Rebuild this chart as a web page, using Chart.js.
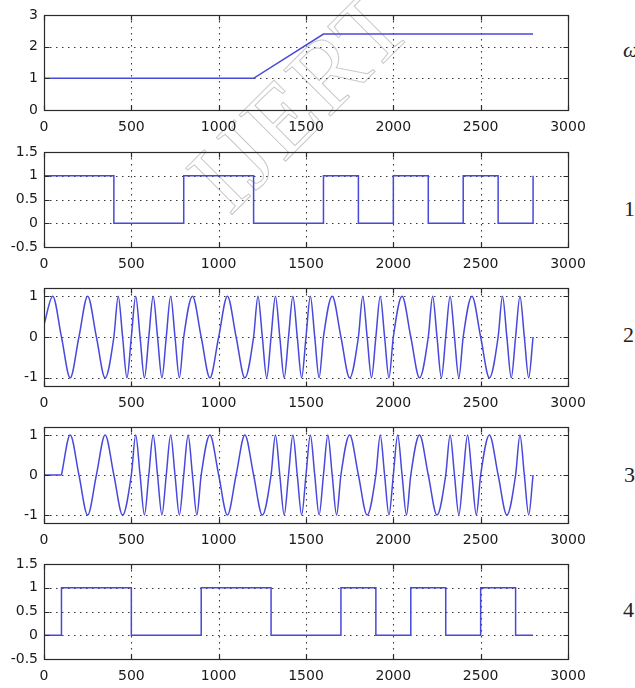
<!DOCTYPE html>
<html><head><meta charset="utf-8">
<script src="https://cdn.jsdelivr.net/npm/chart.js@4"></script>
<style>
html,body{margin:0;padding:0;background:#fff;width:635px;height:688px;overflow:hidden;position:relative}
canvas{position:absolute;left:0}
.lab{position:absolute;font-family:"Liberation Serif","DejaVu Serif",serif;font-size:22px;color:#222;line-height:1;white-space:nowrap}
.wm{position:absolute;left:300px;top:100px;font-family:"Liberation Serif",serif;font-size:100px;line-height:1;color:transparent;-webkit-text-stroke:1px #c8c8c8;transform:translate(-50%,-50%) rotate(-45deg);white-space:nowrap;letter-spacing:2px}
</style></head><body>
<div class="wm">IJERT</div>
<div class="lab" style="left:623px;top:39px;font-style:italic">ω</div>
<div class="lab" style="left:624px;top:198px">1</div>
<div class="lab" style="left:623px;top:324px">2</div>
<div class="lab" style="left:624px;top:464px">3</div>
<div class="lab" style="left:623px;top:599px">4</div>
<script>
// ---- data ----
const xTickLabels = ['0','500','1000','1500','2000','2500','3000'];
const yTicksOmega = ['0','1','2','3'];
const yTicksBin = ['-0.5','0','0.5','1','1.5'];
const yTicksWave = ['-1','0','1'];

const omegaX = [0, 1200, 1600, 2800];
const omegaY = [1, 1, 2.4, 2.4];

const bit1X = [0,400,800,1200,1600,1800,2000,2200,2400,2600,2800];
const bit1Y = [1,0,1,0,1,0,1,0,1,0,1];

const bit4X = [0,100,500,900,1300,1700,1900,2100,2300,2500,2700,2800];
const bit4Y = [0,1,0,1,0,1,0,1,0,1,0,0];

// extrema / zero crossings of signal 2
const wave2X = [0,50,100,150,200,250,300,350,400,
 425,450,475,500,525,550,575,600,625,650,675,700,725,750,775,800,
 850,900,950,1000,1050,1100,1150,1200,
 1225,1250,1275,1300,1325,1350,1375,1400,1425,1450,1475,1500,1525,1550,1575,1600,
 1650,1700,1750,1800,
 1825,1850,1875,1900,1925,1950,1975,2000,
 2050,2100,2150,2200,
 2225,2250,2275,2300,2325,2350,2375,2400,
 2450,2500,2550,2600,
 2625,2650,2675,2700,2725,2750,2775,2800];
const wave2Y = [0.3,1,0,-1,0,1,0,-1,0,
 1,0,-1,0,1,0,-1,0,1,0,-1,0,1,0,-1,0,
 1,0,-1,0,1,0,-1,0,
 1,0,-1,0,1,0,-1,0,1,0,-1,0,1,0,-1,0,
 1,0,-1,0,
 1,0,-1,0,1,0,-1,0,
 1,0,-1,0,
 1,0,-1,0,1,0,-1,0,
 1,0,-1,0,
 1,0,-1,0,1,0,-1,0];

// signal 3: flat lead then extrema / zero crossings
const lead3X = [0, 100];
const lead3Y = [0, 0];
const wave3X = [100,150,200,250,300,350,400,450,500,
 525,550,575,600,625,650,675,700,725,750,775,800,825,850,875,900,
 950,1000,1050,1100,1150,1200,1250,1300,
 1325,1350,1375,1400,1425,1450,1475,1500,1525,1550,1575,1600,1625,1650,1675,1700,
 1750,1800,1850,1900,
 1925,1950,1975,2000,2025,2050,2075,2100,
 2150,2200,2250,2300,
 2325,2350,2375,2400,2425,2450,2475,2500,
 2550,2600,2650,2700,
 2725,2750,2775,2800];
const wave3Y = [0,1,0,-1,0,1,0,-1,0,
 1,0,-1,0,1,0,-1,0,1,0,-1,0,1,0,-1,0,
 1,0,-1,0,1,0,-1,0,
 1,0,-1,0,1,0,-1,0,1,0,-1,0,1,0,-1,0,
 1,0,-1,0,
 1,0,-1,0,1,0,-1,0,
 1,0,-1,0,
 1,0,-1,0,1,0,-1,0,
 1,0,-1,0,
 1,0,-1,0];

// ---- rendering ----
const LINE = '#4848dc';
const toXY = (xs, ys) => xs.map((v, i) => ({x: v, y: ys[i]}));

const framePlugin = {
  id: 'frame',
  beforeDatasetsDraw(chart) {
    const {ctx, chartArea: a, scales: {x, y}} = chart;
    ctx.save();
    ctx.strokeStyle = '#3a3a3a'; ctx.lineWidth = 1.1; ctx.setLineDash([1.5, 4.5]);
    x.ticks.forEach(t => {
      const px = Math.round(x.getPixelForValue(t.value)) + 0.5;
      if (px > a.left + 2 && px < a.right - 2) { ctx.beginPath(); ctx.moveTo(px, a.top); ctx.lineTo(px, a.bottom); ctx.stroke(); }
    });
    y.ticks.forEach(t => {
      const py = Math.round(y.getPixelForValue(t.value)) + 0.5;
      if (py > a.top + 2 && py < a.bottom - 2) { ctx.beginPath(); ctx.moveTo(a.left, py); ctx.lineTo(a.right, py); ctx.stroke(); }
    });
    ctx.restore();
  },
  afterDatasetsDraw(chart) {
    const {ctx, chartArea: a, scales: {x, y}} = chart;
    ctx.save();
    ctx.strokeStyle = '#2a2a2a'; ctx.lineWidth = 1.2; ctx.setLineDash([]);
    const L = Math.round(a.left) + 0.5, R = Math.round(a.right) + 0.5, T = Math.round(a.top) + 0.5, B = Math.round(a.bottom) + 0.5;
    ctx.strokeRect(L, T, R - L, B - T);
    const tl = 5;
    ctx.beginPath();
    x.ticks.forEach(t => {
      const px = Math.round(x.getPixelForValue(t.value)) + 0.5;
      ctx.moveTo(px, B); ctx.lineTo(px, B - tl);
      ctx.moveTo(px, T); ctx.lineTo(px, T + tl);
    });
    y.ticks.forEach(t => {
      const py = Math.round(y.getPixelForValue(t.value)) + 0.5;
      ctx.moveTo(L, py); ctx.lineTo(L + tl, py);
      ctx.moveTo(R, py); ctx.lineTo(R - tl, py);
    });
    ctx.stroke();
    ctx.restore();
  }
};

const tickFont = {family: '"DejaVu Sans", sans-serif', size: 14, lineHeight: 1};

function makeChart(cfg) {
  const c = document.createElement('canvas');
  const H = cfg.canvasBottom - cfg.canvasTop;
  c.width = 635; c.height = H;
  c.style.top = cfg.canvasTop + 'px';
  c.style.width = '635px'; c.style.height = H + 'px';
  document.body.appendChild(c);
  const datasets = cfg.series.map(s => ({
    data: toXY(s.x, s.y),
    borderColor: LINE, borderWidth: 1.5, pointRadius: 0, fill: false,
    stepped: s.stepped || false,
    cubicInterpolationMode: s.smooth ? 'monotone' : 'default',
    tension: 0
  }));
  new Chart(c, {
    type: 'line',
    data: {datasets},
    options: {
      responsive: false, animation: false, devicePixelRatio: 1,
      layout: {padding: {top: cfg.plotTop - cfg.canvasTop, right: 635 - 568, left: 0, bottom: 0}},
      plugins: {legend: {display: false}, tooltip: {enabled: false}},
      scales: {
        x: {
          type: 'linear', min: 0, max: 3000,
          grid: {display: false, drawTicks: false}, border: {display: false},
          afterBuildTicks: s => { s.ticks = xTickLabels.map(l => ({value: parseFloat(l)})); },
          afterFit: s => { s.height = cfg.canvasBottom - cfg.plotBottom; },
          ticks: {font: tickFont, color: '#1a1a1a', padding: 10, maxRotation: 0, autoSkip: false,
            callback: (v) => xTickLabels.find(l => parseFloat(l) === v) ?? ''}
        },
        y: {
          type: 'linear', min: cfg.yMin, max: cfg.yMax,
          grid: {display: false, drawTicks: false}, border: {display: false},
          afterBuildTicks: s => { s.ticks = cfg.yLabels.map(l => ({value: parseFloat(l)})); },
          afterFit: s => { s.width = 44; },
          ticks: {font: tickFont, color: '#1a1a1a', padding: 6, autoSkip: false,
            callback: (v) => cfg.yLabels.find(l => parseFloat(l) === v) ?? ''}
        }
      }
    },
    plugins: [framePlugin]
  });
}

makeChart({canvasTop: 0, canvasBottom: 145, plotTop: 15, plotBottom: 110, yMin: 0, yMax: 3, yLabels: yTicksOmega,
  series: [{x: omegaX, y: omegaY}]});
makeChart({canvasTop: 130, canvasBottom: 285, plotTop: 152, plotBottom: 247, yMin: -0.5, yMax: 1.5, yLabels: yTicksBin,
  series: [{x: bit1X, y: bit1Y, stepped: true}]});
makeChart({canvasTop: 266, canvasBottom: 421, plotTop: 288, plotBottom: 386, yMin: -1.2, yMax: 1.2, yLabels: yTicksWave,
  series: [{x: wave2X, y: wave2Y, smooth: true}]});
makeChart({canvasTop: 405, canvasBottom: 560, plotTop: 427, plotBottom: 523, yMin: -1.2, yMax: 1.2, yLabels: yTicksWave,
  series: [{x: lead3X, y: lead3Y}, {x: wave3X, y: wave3Y, smooth: true}]});
makeChart({canvasTop: 542, canvasBottom: 688, plotTop: 564, plotBottom: 659, yMin: -0.5, yMax: 1.5, yLabels: yTicksBin,
  series: [{x: bit4X, y: bit4Y, stepped: true}]});
</script>
</body></html>
